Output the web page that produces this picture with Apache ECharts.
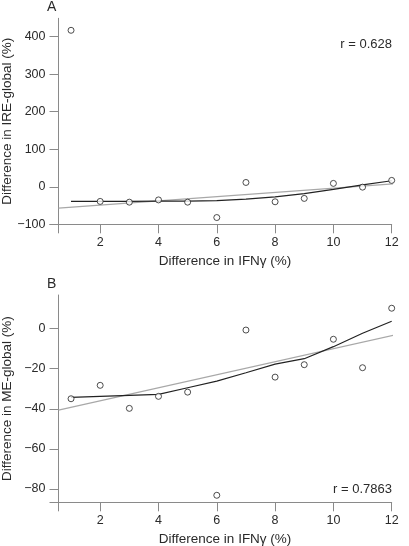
<!DOCTYPE html>
<html>
<head>
<meta charset="utf-8">
<script src="https://cdn.jsdelivr.net/npm/echarts@6/dist/echarts.min.js"></script>
<style>
html,body{margin:0;padding:0;background:#fff;}
#chart{width:409px;height:546px;}
</style>
</head>
<body>
<div id="chart"></div>
<script>
// ---- data ----
const ifnDiff = [1, 2, 3, 4, 5, 6, 7, 8, 9, 10, 11, 12];
const ireGlobal = [417, -39, -41, -35, -41, -82, 11.5, -40, -31, 9, -1, 17];
const ireLoess = [-39, -39, -39, -38, -38, -37, -33, -27, -18, -7, 5, 16];
const ireFitX = [0.57, 12.6];
const ireFitY = [-57, 10.7];
const meGlobal = [-35, -28.3, -39.8, -33.8, -31.7, -83.2, -0.7, -24.2, -18, -5.3, -19.5, 10.2];
const meLoess = [-34.3, -33.8, -33.3, -32.8, -29.5, -26.2, -22, -17.7, -15, -9, -2.3, 3.7];
const meFitX = [0.57, 12.6];
const meFitY = [-40.7, -1.5];
const xTickLabels = [2, 4, 6, 8, 10, 12];
const ireTickLabels = [-100, 0, 100, 200, 300, 400];
const meTickLabels = [-80, -60, -40, -20, 0];

const FONT = 'Liberation Sans, Arial, sans-serif';
const AX = '#8a8a8a';
const TXT = '#2a2a2a';
const zip = (a, b) => a.map((v, i) => [v, b[i]]);
const fmt = v => String(v).replace('-', '\u2212');

const xMin = 0.57, xMax = 12;
const yAmin = -100, yAmax = 449;
const yBmin = -86.7, yBmax = 16.8;

function xAxis(gi) {
  return {
    type: 'value', gridIndex: gi, min: xMin, max: xMax,
    name: 'Difference in IFN\u03b3 (%)', nameLocation: 'middle', nameGap: 30, nameMoveOverlap: false,
    nameTextStyle: {fontFamily: FONT, fontSize: 13.5, color: TXT},
    axisLine: {show: true, onZero: false, lineStyle: {color: AX, width: 1}},
    axisTick: {show: true, inside: false, length: 9, lineStyle: {color: AX}, customValues: [xMin].concat(xTickLabels)},
    axisLabel: {show: true, margin: 12, fontFamily: FONT, fontSize: 12.5, color: TXT, customValues: xTickLabels, formatter: fmt},
    splitLine: {show: false}
  };
}
function yAxis(gi, mn, mx, labels, name) {
  return {
    type: 'value', gridIndex: gi, min: mn, max: mx,
    name: name, nameLocation: 'middle', nameGap: 44, nameRotate: 90, nameMoveOverlap: false,
    nameTextStyle: {fontFamily: FONT, fontSize: 13.5, color: TXT},
    axisLine: {show: true, onZero: false, lineStyle: {color: AX, width: 1}},
    axisTick: {show: true, inside: false, length: 9, lineStyle: {color: AX}, customValues: [mn].concat(labels)},
    axisLabel: {show: true, margin: 13, fontFamily: FONT, fontSize: 12.5, color: TXT, customValues: labels, formatter: fmt},
    splitLine: {show: false}
  };
}
const scatterStyle = {color: '#fff', borderColor: '#222', borderWidth: 1};

const chart = echarts.init(document.getElementById('chart'), null, {renderer: 'canvas'});
chart.setOption({
  animation: false,
  backgroundColor: '#fff',
  grid: [
    {left: 58.5, right: 17.3, top: 18.3, height: 206, containLabel: false, outerBoundsMode: 'none'},
    {left: 58.5, right: 17.3, top: 295, height: 207.3, containLabel: false, outerBoundsMode: 'none'}
  ],
  xAxis: [xAxis(0), xAxis(1)],
  yAxis: [
    yAxis(0, yAmin, yAmax, ireTickLabels, 'Difference in IRE-global (%)'),
    yAxis(1, yBmin, yBmax, meTickLabels, 'Difference in ME-global (%)')
  ],
  graphic: [
    {type: 'text', left: 47, top: 0, style: {text: 'A', font: '14px ' + FONT, fill: TXT}},
    {type: 'text', left: 47, top: 277, style: {text: 'B', font: '14px ' + FONT, fill: TXT}},
    {type: 'text', right: 17, top: 38, style: {text: 'r = 0.628', font: '13px ' + FONT, fill: TXT}},
    {type: 'text', right: 17, top: 483, style: {text: 'r = 0.7863', font: '13px ' + FONT, fill: TXT}}
  ],
  series: [
    {type: 'line', xAxisIndex: 0, yAxisIndex: 0, data: zip(ireFitX, ireFitY), clip: false, symbol: 'none',
     lineStyle: {color: '#a8a8a8', width: 1.2}, z: 2},
    {type: 'line', xAxisIndex: 0, yAxisIndex: 0, data: zip(ifnDiff, ireLoess), symbol: 'none',
     lineStyle: {color: '#222', width: 1.2}, z: 3},
    {type: 'scatter', xAxisIndex: 0, yAxisIndex: 0, data: zip(ifnDiff, ireGlobal), symbol: 'circle', symbolSize: 6,
     itemStyle: scatterStyle, z: 4},
    {type: 'line', xAxisIndex: 1, yAxisIndex: 1, data: zip(meFitX, meFitY), clip: false, symbol: 'none',
     lineStyle: {color: '#a8a8a8', width: 1.2}, z: 2},
    {type: 'line', xAxisIndex: 1, yAxisIndex: 1, data: zip(ifnDiff, meLoess), symbol: 'none',
     lineStyle: {color: '#222', width: 1.2}, z: 3},
    {type: 'scatter', xAxisIndex: 1, yAxisIndex: 1, data: zip(ifnDiff, meGlobal), symbol: 'circle', symbolSize: 6,
     itemStyle: scatterStyle, z: 4}
  ]
});
</script>
</body>
</html>
